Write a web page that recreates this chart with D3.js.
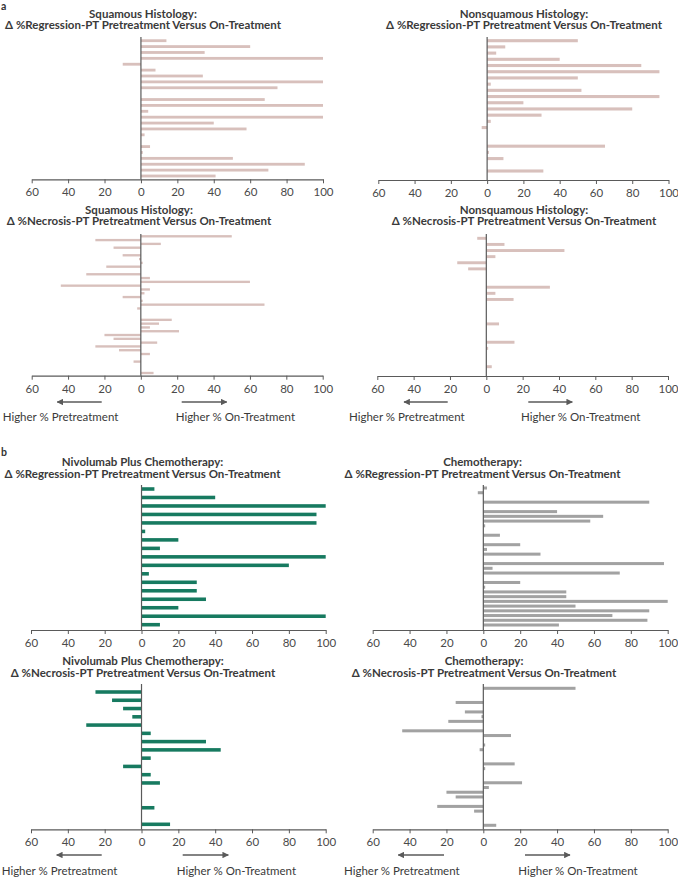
<!DOCTYPE html>
<html>
<head>
<meta charset="utf-8">
<script src="https://cdn.jsdelivr.net/npm/d3@7"></script>
<style>
  html, body { margin: 0; padding: 0; background: #fff; }
  svg { display: block; font-family: Lato, "Open Sans", sans-serif; }
</style>
</head>
<body>
<svg id="chart" width="678" height="878"></svg>
<script>
// ---------------- DATA ----------------
const tickValues = [-60, -40, -20, 0, 20, 40, 60, 80, 100];

// Panel a: by histology (Δ values, % points; null = no bar)
const sqRegression = [14, 60, 35, 100, -10, 8, 34, 100, 75, null, 68, 100, 4, 100, 40, 58, 2, null, 5, 1, 50.5, 90, 70, 41];
const nonsqRegression = [50, 10, 5, 40, 85, 95, 50, 2, 52, 95, 20, 80, 30, 2, -3, null, null, 65, 1, 9, null, 31];
const sqNecrosis = [50, -25, 11, -15, null, -10, -1, 1, -19, null, -30, 5, 60, -44, 5, 2, -10, 1, 68, -2, null, null, 17, 10, 5, 21, -20, -15, 9, -25, -12, 5, null, -4, null, null, 7];
const nonsqNecrosis = [-5, 10, 43, 5, -16, -10, null, null, 35, 5, 15, null, null, null, 7, null, null, 15.5, 1, null, null, 3];

// Panel b: by treatment arm
const nivoRegression = [7, 40, 100, 95, 95, 2, 20, 10, 100, 80, 4, 30, 30, 35, 20, 100, 10];
const chemoRegression = [2, -3, null, 90, null, 40, 65, 58, 1, null, 9, null, 20, 2, 31, null, 98, 5, 74, null, 20, 1, 45, 45, 100, 50, 90, 70, 89, 41];
const nivoNecrosis = [-25, -16, -10, -5, -30, 5, 35, 43, 5, -10, 5, 10, null, null, 7, null, 15.5];
const chemoNecrosis = [50, null, null, -15, null, -10, -1, -19, null, -44, 15, null, 1, -2, null, null, 17, 1, null, null, 21, 3, -20, -15, null, -25, -5, null, null, 7];

const titlesLine1 = ["Squamous Histology:", "Nonsquamous Histology:", "Squamous Histology:", "Nonsquamous Histology:",
  "Nivolumab Plus Chemotherapy:", "Chemotherapy:", "Nivolumab Plus Chemotherapy:", "Chemotherapy:"];
const titlesLine2 = ["Δ %Regression-PT Pretreatment Versus On-Treatment", "Δ %Regression-PT Pretreatment Versus On-Treatment",
  "Δ %Necrosis-PT Pretreatment Versus On-Treatment", "Δ %Necrosis-PT Pretreatment Versus On-Treatment",
  "Δ %Regression-PT Pretreatment Versus On-Treatment", "Δ %Regression-PT Pretreatment Versus On-Treatment",
  "Δ %Necrosis-PT Pretreatment Versus On-Treatment", "Δ %Necrosis-PT Pretreatment Versus On-Treatment"];
const leftLabel = "Higher % Pretreatment";
const rightLabel = "Higher % On-Treatment";

// ---------------- STYLE / LAYOUT ----------------
const PINK = "#d8c0bc", GREEN = "#177a60", GRAY = "#a2a2a2", AXIS = "#5a5a5a";

const layout = [
  { data: sqRegression,    color: PINK,  tx: 143, ty: 17.5, x0: 31.7, x1: 323,   c0: 40.7,  c1: 176,   axisY: 179.3, top: 37,  pad: 0.52 },
  { data: nonsqRegression, color: PINK,  tx: 524, ty: 17.5, x0: 378.3, x1: 668.5, c0: 40.7, c1: 171,   axisY: 180,   top: 37,  pad: 0.5 },
  { data: sqNecrosis,      color: PINK,  tx: 139, ty: 213.5, x0: 31.7, x1: 322.7, c0: 236.3, c1: 373,  axisY: 375.7, top: 234, pad: 0.38,
    arrows: { y: 402, l: [57.3, 101.7], r: [181.7, 226.7], t1: 2.7, t2: 175.7, ty: 421 } },
  { data: nonsqNecrosis,   color: PINK,  tx: 524, ty: 213.5, x0: 377.3, x1: 668, c0: 238.3, c1: 366.7, axisY: 376, top: 234, pad: 0.52,
    arrows: { y: 402, l: [404, 447.7], r: [528.3, 572.3], t1: 349, t2: 521, ty: 421 } },
  { data: nivoRegression,  color: GREEN, tx: 142.5, ty: 466, x0: 31, x1: 325.7, c0: 489, c1: 624.7, axisY: 630, top: 485, pad: 0.58 },
  { data: chemoRegression, color: GRAY,  tx: 482.5, ty: 466, x0: 372.7, x1: 667.7, c0: 488, c1: 625, axisY: 630, top: 485, pad: 0.36 },
  { data: nivoNecrosis,    color: GREEN, tx: 143, ty: 665, x0: 31, x1: 325.7, c0: 692, c1: 824.3, axisY: 829.3, top: 684, pad: 0.57,
    arrows: { y: 855, l: [56.7, 101.7], r: [182.7, 228.3], t1: 1.7, t2: 176.7, ty: 875.3 } },
  { data: chemoNecrosis,   color: GRAY,  tx: 484, ty: 665, x0: 372.7, x1: 667.7, c0: 688.3, c1: 825.3, axisY: 829.3, top: 684, pad: 0.36,
    arrows: { y: 855, l: [398.3, 444], r: [525, 570], t1: 344, t2: 518.3, ty: 875.3 } }
];

// ---------------- DRAW ----------------
const svg = d3.select("#chart");

const defs = svg.append("defs");
defs.append("marker").attr("id", "head").attr("viewBox", "0 0 10 10")
  .attr("refX", 9).attr("refY", 5).attr("markerWidth", 5).attr("markerHeight", 5)
  .attr("markerUnits", "strokeWidth").attr("orient", "auto-start-reverse")
  .append("path").attr("d", "M0,0 L10,5 L0,10 z").attr("fill", AXIS);

svg.append("text").attr("x", 1).attr("y", 9.5).attr("font-size", 10.5).attr("font-weight", 700)
  .attr("fill", "#333").text("a");
svg.append("text").attr("x", 1).attr("y", 455.5).attr("font-size", 10.5).attr("font-weight", 700)
  .attr("fill", "#333").text("b");

layout.forEach((p, i) => {
  const g = svg.append("g");
  const n = p.data.length;
  const rows = d3.range(n);
  const step = (p.c1 - p.c0) / (n - 1);

  const x = d3.scaleLinear().domain([tickValues[0], tickValues[tickValues.length - 1]]).range([p.x0, p.x1]);
  const y = d3.scaleBand().domain(rows)
    .range([p.c0 - step / 2, p.c1 + step / 2])
    .paddingInner(p.pad).paddingOuter(p.pad / 2);

  // title
  const t = g.append("text").attr("text-anchor", "middle").attr("font-size", 11.5)
    .attr("font-weight", 700).attr("fill", "#3a3a3a");
  t.append("tspan").attr("x", p.tx).attr("y", p.ty).text(titlesLine1[i]);
  t.append("tspan").attr("x", p.tx).attr("y", p.ty + 11.5).text(titlesLine2[i]);

  // bars
  g.selectAll("rect.bar").data(rows.filter(r => p.data[r] !== null && p.data[r] !== 0))
    .join("rect").attr("class", "bar")
    .attr("x", r => x(Math.min(0, p.data[r])))
    .attr("width", r => Math.abs(x(p.data[r]) - x(0)))
    .attr("y", r => y(r))
    .attr("height", y.bandwidth())
    .attr("fill", p.color);

  // x axis
  const ax = g.append("g").attr("transform", `translate(0,${p.axisY})`)
    .call(d3.axisBottom(x).tickValues(tickValues).tickFormat(d => Math.abs(d))
      .tickSize(4).tickSizeOuter(0).tickPadding(5));
  ax.select(".domain").attr("stroke", AXIS).attr("stroke-width", 1.2);
  ax.selectAll(".tick line").attr("stroke", AXIS).attr("stroke-width", 1);
  ax.selectAll(".tick text").attr("font-size", 11.5).attr("fill", "#4a4a4a")
    .attr("font-family", "Lato, sans-serif");

  // zero line
  g.append("line").attr("x1", x(0)).attr("x2", x(0)).attr("y1", p.top).attr("y2", p.axisY)
    .attr("stroke", AXIS).attr("stroke-width", 1.2);

  // arrows + labels
  if (p.arrows) {
    const a = p.arrows;
    g.append("line").attr("x1", a.l[1]).attr("x2", a.l[0]).attr("y1", a.y).attr("y2", a.y)
      .attr("stroke", AXIS).attr("stroke-width", 1.3).attr("marker-end", "url(#head)");
    g.append("line").attr("x1", a.r[0]).attr("x2", a.r[1]).attr("y1", a.y).attr("y2", a.y)
      .attr("stroke", AXIS).attr("stroke-width", 1.3).attr("marker-end", "url(#head)");
    g.append("text").attr("x", a.t1).attr("y", a.ty).attr("font-size", 11.5).attr("fill", "#3a3a3a").text(leftLabel);
    g.append("text").attr("x", a.t2).attr("y", a.ty).attr("font-size", 11.5).attr("fill", "#3a3a3a").text(rightLabel);
  }
});
</script>
</body>
</html>
